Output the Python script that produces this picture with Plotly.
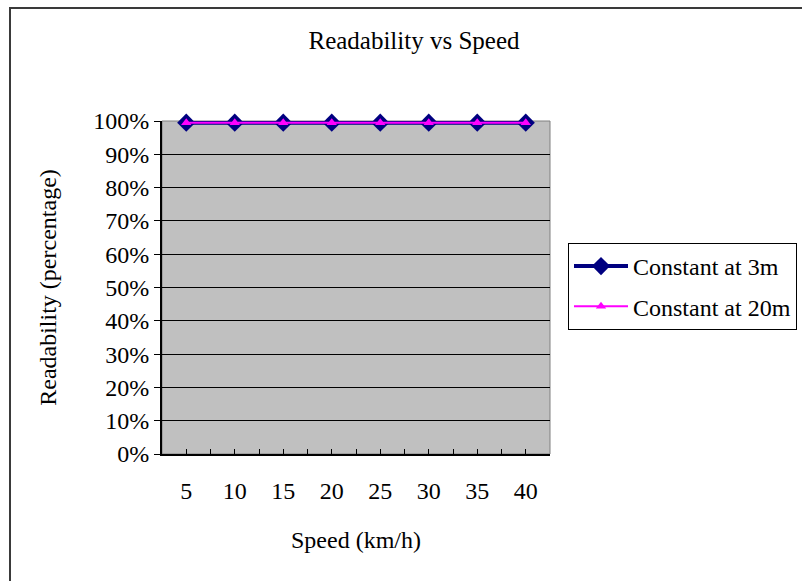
import plotly.graph_objects as go

# Speed categories (km/h) and readability for each viewing distance (%)
speeds = [5, 10, 15, 20, 25, 30, 35, 40]
readability_3m = [99.5, 99.5, 99.5, 99.5, 99.5, 99.5, 99.5, 99.5]
readability_20m = [99.5, 99.5, 99.5, 99.5, 99.5, 99.5, 99.5, 99.5]
y_ticks = [0, 10, 20, 30, 40, 50, 60, 70, 80, 90, 100]
y_tick_labels = [f"{v}%" for v in y_ticks]

W, H = 802, 581
L, R, T, B = 162, 252, 121, 127
plot_w = W - L - R
plot_h = H - T - B


def px_x(x):
    return (x - L) / plot_w


def px_y(y):
    return (H - B - y) / plot_h


FONT = "Liberation Serif, Times New Roman, serif"
FS = 24

fig = go.Figure()
fig.add_trace(go.Scatter(
    x=speeds, y=readability_3m, name="Constant at 3m",
    mode="lines+markers", legendgroup="a",
    line=dict(color="#000080", width=4),
    marker=dict(symbol="diamond", size=14, color="#000080"),
    cliponaxis=False,
))
fig.add_trace(go.Scatter(
    x=speeds, y=readability_20m, name="Constant at 20m",
    mode="lines+markers", legendgroup="b",
    line=dict(color="#FF00FF", width=2),
    marker=dict(symbol="triangle-up", size=9, color="#FF00FF"),
    cliponaxis=False,
))

shapes = [
    # plot-area border
    dict(type="rect", xref="paper", yref="paper", x0=0, x1=1, y0=0, y1=1,
         line=dict(color="#808080", width=1), layer="between"),
    # outer chart frame
    dict(type="rect", xref="paper", yref="paper",
         x0=px_x(10), x1=px_x(830), y0=px_y(610), y1=px_y(8),
         line=dict(color="#3a3a3a", width=2), layer="above"),
]

fig.update_layout(
    width=W, height=H,
    margin=dict(l=L, r=R, t=T, b=B, autoexpand=False),
    paper_bgcolor="white",
    plot_bgcolor="#C0C0C0",
    font=dict(family=FONT, size=FS, color="black"),
    title=dict(text="Readability vs Speed", xref="container", x=414 / W,
               xanchor="center", yref="container", y=1 - 40 / H,
               yanchor="middle",
               font=dict(family=FONT, size=FS + 1, color="black")),
    showlegend=True,
    legend=dict(
        x=px_x(568), y=px_y(243), xanchor="left", yanchor="top",
        bgcolor="white", bordercolor="black", borderwidth=1,
        font=dict(family=FONT, size=FS, color="black"),
        tracegroupgap=6, itemwidth=54,
    ),
    shapes=shapes,
)

fig.update_xaxes(
    range=[2.5, 42.5],
    tickmode="array", tickvals=speeds, ticktext=[str(s) for s in speeds],
    ticks="inside", ticklen=5, tickcolor="black", tickwidth=1,
    minor=dict(tickmode="linear", tick0=2.5, dtick=5, ticks="inside",
               ticklen=5, tickcolor="black", tickwidth=1, showgrid=False),
    showline=True, linecolor="black", linewidth=2,
    showgrid=False, zeroline=False,
    ticklabelstandoff=14,
    title=dict(text="Speed (km/h)", standoff=28,
               font=dict(family=FONT, size=FS, color="black")),
)
fig.update_yaxes(
    range=[0, 100],
    tickmode="array", tickvals=y_ticks, ticktext=y_tick_labels,
    ticks="outside", ticklen=6, tickcolor="black", tickwidth=1,
    showline=True, linecolor="black", linewidth=2,
    showgrid=True, gridcolor="black", gridwidth=1,
    zeroline=False,
    title=dict(text="Readability (percentage)", standoff=30,
               font=dict(family=FONT, size=FS, color="black")),
)

fig.write_html("out.html")
